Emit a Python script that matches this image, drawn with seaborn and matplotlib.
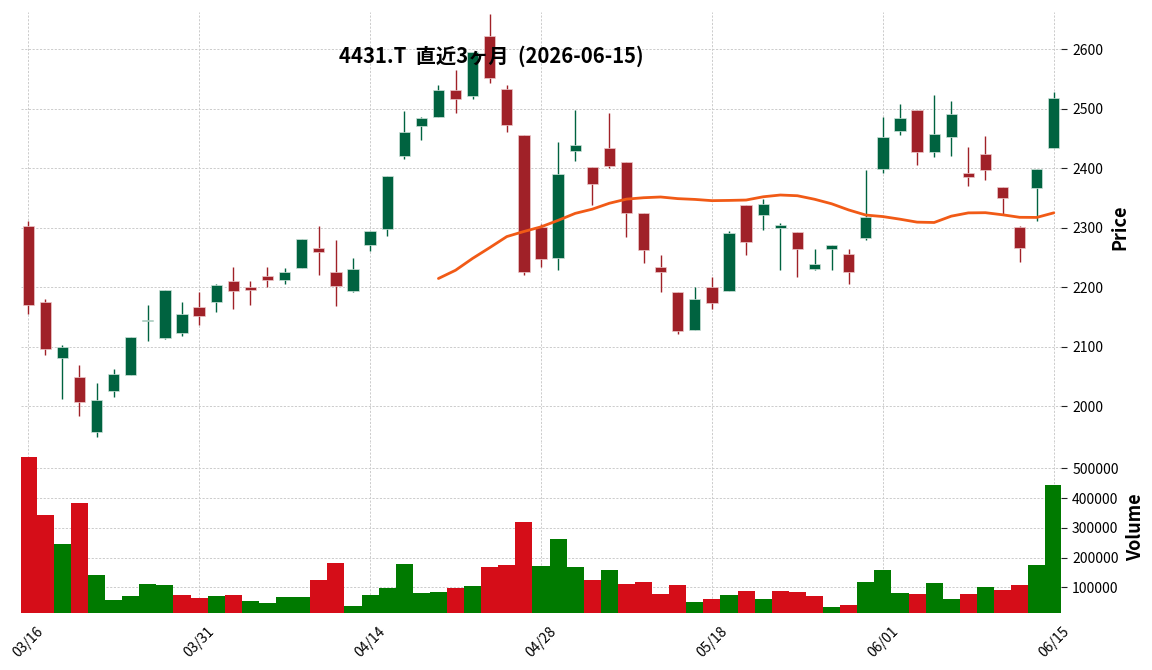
import numpy as np
import pandas as pd
import seaborn as sns
import matplotlib
matplotlib.use('Agg')
import matplotlib.pyplot as plt

# ---- data (4431.T, last 3 months) ----
holidays = ['2026-03-20', '2026-04-29', '2026-05-04', '2026-05-05', '2026-05-06']
dates = pd.bdate_range('2026-03-16', '2026-06-15')
dates = dates[~dates.isin(pd.to_datetime(holidays))]

opens = [2303, 2175, 2082, 2049, 1957, 2026, 2053, 2143, 2115, 2124,
         2167, 2176, 2211, 2201, 2219, 2213, 2233, 2266, 2226, 2194,
         2272, 2298, 2421, 2472, 2487, 2532, 2522, 2622, 2533, 2456,
         2301, 2250, 2430, 2402, 2434, 2411, 2325, 2234, 2192, 2128,
         2201, 2194, 2338, 2322, 2299, 2293, 2231, 2264, 2256, 2283,
         2399, 2463, 2499, 2428, 2453, 2392, 2424, 2369, 2301, 2367,
         2435]
highs = [2311, 2181, 2103, 2069, 2039, 2063, 2117, 2170, 2196, 2176,
         2193, 2206, 2234, 2211, 2235, 2232, 2282, 2304, 2280, 2249,
         2295, 2387, 2496, 2487, 2541, 2566, 2595, 2659, 2541, 2456,
         2306, 2444, 2499, 2402, 2494, 2411, 2325, 2254, 2192, 2200,
         2217, 2295, 2338, 2349, 2308, 2293, 2264, 2271, 2264, 2397,
         2486, 2509, 2499, 2524, 2513, 2436, 2454, 2369, 2304, 2399,
         2529]
lows = [2156, 2087, 2013, 1983, 1948, 2016, 2052, 2109, 2114, 2119,
        2136, 2159, 2164, 2170, 2200, 2205, 2233, 2220, 2169, 2192,
        2261, 2286, 2415, 2448, 2487, 2494, 2516, 2543, 2461, 2221,
        2234, 2229, 2412, 2338, 2400, 2284, 2241, 2193, 2121, 2128,
        2163, 2194, 2254, 2296, 2230, 2218, 2229, 2229, 2205, 2280,
        2392, 2457, 2405, 2420, 2421, 2370, 2380, 2324, 2242, 2311,
        2435]
closes = [2171, 2096, 2100, 2008, 2011, 2054, 2117, 2145, 2196, 2155,
          2152, 2204, 2194, 2196, 2213, 2226, 2281, 2260, 2203, 2231,
          2295, 2387, 2461, 2485, 2532, 2517, 2595, 2552, 2473, 2225,
          2248, 2390, 2439, 2373, 2404, 2325, 2263, 2225, 2127, 2180,
          2174, 2291, 2276, 2340, 2305, 2265, 2239, 2271, 2225, 2318,
          2453, 2485, 2428, 2458, 2491, 2386, 2398, 2351, 2267, 2399,
          2518]
volumes = [539000, 343000, 245600, 383000, 141000, 57400, 70900, 111200, 107800, 74200,
           64200, 70900, 74200, 54100, 47400, 67500, 67500, 124600, 181800, 37300,
           74200, 98900, 178400, 81000, 84300, 98900, 104500, 168300, 175000, 319500,
           171700, 262400, 168300, 124600, 158200, 111200, 117900, 77600, 107800, 50700,
           60800, 74200, 87700, 60800, 87700, 84300, 70900, 33900, 40600, 117900,
           158200, 81000, 77600, 114600, 60800, 77600, 101100, 91000, 107800, 175000,
           443800]

price_ticks = [2000, 2100, 2200, 2300, 2400, 2500, 2600]
vol_ticks = [100000, 200000, 300000, 400000, 500000]
title = '4431.T  直近3ヶ月  (2026-06-15)'

df = pd.DataFrame({'Open': opens, 'High': highs, 'Low': lows,
                   'Close': closes, 'Volume': volumes}, index=dates)
df['i'] = np.arange(len(df))
df['MA25'] = df['Close'].rolling(25).mean()
prev_close = df['Close'].shift(1).fillna(df['Open'])
df['vdir'] = np.where(df['Close'] >= prev_close, 'up', 'down')
up = df['Close'] >= df['Open']

# ---- style ----
sns.set_style('whitegrid', rc={'grid.color': '#cccccc', 'grid.linewidth': 0.7,
                               'text.color': 'black', 'axes.labelcolor': 'black',
                               'xtick.color': 'black', 'ytick.color': 'black'})
plt.rcParams['font.family'] = ['Noto Sans CJK JP', 'DejaVu Sans']

fig = plt.figure(figsize=(11.52, 6.70), dpi=100)
ax = fig.add_axes([21/1152, 228/670, 1040/1152, 430/670])
axv = fig.add_axes([21/1152, 57/670, 1040/1152, 171/670], sharex=ax)

# candles
body_col = np.where(up, '#006340', '#a02128')
edge_col = np.where(up, '#cfe3da', '#ecc9cb')
ax.vlines(df['i'], df['Low'], df['High'], colors=body_col, lw=1.0, zorder=2)
ax.bar(df['i'], (df['Close'] - df['Open']).abs().clip(lower=1),
       bottom=df[['Open', 'Close']].min(axis=1), width=0.66,
       color=body_col, edgecolor=edge_col, linewidth=0.5, zorder=3)

# 25-day moving average
sns.lineplot(x=df['i'], y=df['MA25'], ax=ax, color='#f15a16', lw=2, zorder=4)

# volume
sns.barplot(data=df, x='i', y='Volume', hue='vdir',
            palette={'up': '#007a00', 'down': '#d50d18'},
            native_scale=True, width=1.0, saturation=1, legend=False,
            ax=axv, linewidth=0)

for a in (ax, axv):
    for s in a.spines.values():
        s.set_visible(False)
    a.grid(True, linestyle=(0, (2.2, 1.6)), color='#cccccc', linewidth=0.7)
    a.yaxis.tick_right()
    a.yaxis.set_label_position('right')
    a.tick_params(axis='y', length=4, width=0.8, color='#222222', pad=4,
                  labelsize=10, labelcolor='black')

ax.set_xlim(-0.42, 60.42)
ax.set_ylim(1940, 2663)
ax.set_yticks(price_ticks)
ax.set_xticks(range(0, len(df), 10))
ax.tick_params(axis='x', bottom=False, labelbottom=False)
ax.set_xlabel('')
ax.set_ylabel('Price', fontsize=13, fontweight='bold')
ax.yaxis.set_label_coords(1.047, 0.5)

axv.set_ylim(13600, 588400)
axv.set_yticks(vol_ticks)
axv.set_yticklabels([str(v) for v in vol_ticks])
axv.set_xticks(range(0, len(df), 10))
axv.set_xticklabels(dates[::10].strftime('%m/%d'), rotation=45, ha='center')
axv.tick_params(axis='x', length=4, width=0.8, color='#222222', pad=4,
                labelsize=10, labelcolor='black')
axv.set_xlim(-0.42, 60.42)
axv.set_xlabel('')
axv.set_ylabel('Volume', fontsize=13, fontweight='bold')
axv.yaxis.set_label_coords(1.0625, 0.5)

fig.text(491/1152, 1 - 56/670, title, ha='center', va='center',
         fontsize=14.6, fontweight='bold', color='black')

fig.savefig('out.png', dpi=100)
